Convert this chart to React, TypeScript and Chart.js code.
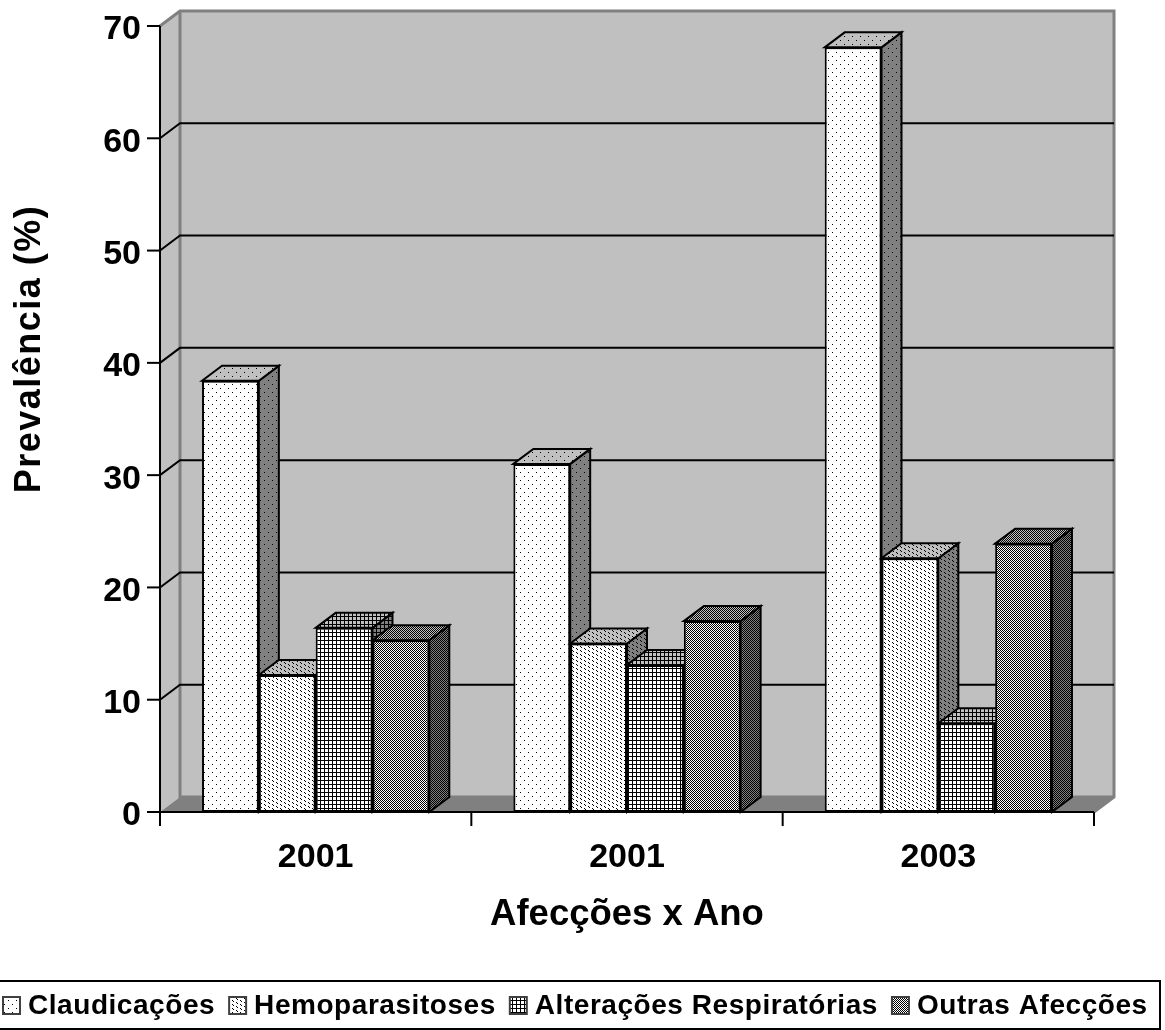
import React, { useEffect, useRef } from "react";
import { Chart, registerables } from "chart.js";

Chart.register(...registerables);

const years = ["2001", "2001", "2003"];
const claudicacoes = [38.4, 31.0, 68.1];
const hemoparasitoses = [12.2, 15.0, 22.6];
const alteracoesRespiratorias = [16.4, 13.1, 7.9];
const outrasAfeccoes = [15.3, 17.0, 23.9];
const seriesNames = ["Claudicações", "Hemoparasitoses", "Alterações Respiratórias", "Outras Afecções"];
const yTicks = [0, 10, 20, 30, 40, 50, 60, 70];
const yTitle = "Prevalência (%)";

const FONT = '"Liberation Sans", Arial, sans-serif';
const DX = 20;
const DY = 15;

type Pt = [number, number];
const dotsTile: Pt[] = [[0, 0], [4, 4]];
const denseTile: Pt[] = [[0, 0], [1, 1], [4, 2], [5, 3], [0, 4], [1, 5], [4, 6], [5, 7]];
const gridTile: Pt[] = [];
for (let i = 0; i < 4; i++) { gridTile.push([i, 0]); if (i) gridTile.push([0, i]); }
const checkTile: Pt[] = [];
for (let y = 0; y < 8; y++) for (let x = 0; x < 8; x++) if ((x + y) % 2 === 0) checkTile.push([x, y]);

function tile(size: number, points: Pt[], bg: string): CanvasPattern {
  const c = document.createElement("canvas");
  c.width = size;
  c.height = size;
  const g = c.getContext("2d")!;
  g.fillStyle = bg;
  g.fillRect(0, 0, size, size);
  g.fillStyle = "#000";
  points.forEach(([x, y]) => g.fillRect(x, y, 1, 1));
  return g.createPattern(c, "repeat")!;
}

const tiles: [number, Pt[]][] = [[8, dotsTile], [8, denseTile], [4, gridTile], [8, checkTile]];

function poly(ctx: CanvasRenderingContext2D, pts: Pt[], fill: any, stroke?: string, lw = 2) {
  ctx.beginPath();
  pts.forEach(([x, y], i) => (i ? ctx.lineTo(x, y) : ctx.moveTo(x, y)));
  ctx.closePath();
  ctx.fillStyle = fill;
  ctx.fill();
  if (stroke) {
    ctx.strokeStyle = stroke;
    ctx.lineWidth = lw;
    ctx.lineJoin = "miter";
    ctx.stroke();
  }
}

function line(ctx: CanvasRenderingContext2D, pts: Pt[], color: string, lw = 2) {
  ctx.beginPath();
  pts.forEach(([x, y], i) => (i ? ctx.lineTo(x, y) : ctx.moveTo(x, y)));
  ctx.strokeStyle = color;
  ctx.lineWidth = lw;
  ctx.stroke();
}

export default function App() {
  const ref = useRef<HTMLCanvasElement>(null);

  useEffect(() => {
    document.body.style.margin = "0";
    const front = tiles.map(([s, p]) => tile(s, p, "#ffffff"));
    const sidePat = tiles.map(([s, p]) => tile(s, p, "#808080"));
    const topPat = tiles.map(([s, p]) => tile(s, p, "#c0c0c0"));

    const plugin = {
      id: "excel3d",
      beforeDraw(chart: any) {
        // the reference's value labels sit slightly below their tick marks
        const items = chart.scales.y.getLabelItems(chart.chartArea);
        items.forEach((item: any) => { item.options.translation[1] += 4; });
      },
      beforeDatasetsDraw(chart: any) {
        const { ctx, scales } = chart;
        const { x, y } = scales;
        const l = x.left, r = x.right;
        const t = y.getPixelForValue(70), b = y.getPixelForValue(0);
        ctx.save();
        poly(ctx, [[l + DX, t - DY], [r + DX, t - DY], [r + DX, b - DY], [l + DX, b - DY]], "#c0c0c0");
        poly(ctx, [[l, t], [l + DX, t - DY], [l + DX, b - DY], [l, b]], "#c0c0c0");
        poly(ctx, [[l, b], [l + DX, b - DY], [r + DX, b - DY], [r, b]], "#808080");
        line(ctx, [[l, t], [l + DX, t - DY], [r + DX, t - DY], [r + DX, b - DY], [r, b]], "#808080", 3);
        line(ctx, [[l + DX, t - DY], [l + DX, b - DY], [r + DX, b - DY]], "#808080", 3);
        yTicks.forEach((v) => {
          if (v === 0 || v === 70) return;
          const py = y.getPixelForValue(v);
          line(ctx, [[l, py], [l + DX, py - DY], [r + DX, py - DY]], "#000", 2);
        });
        ctx.restore();
      },
      beforeDatasetDraw() {
        return false;
      },
      afterDatasetsDraw(chart: any) {
        const { ctx, scales } = chart;
        const { x, y } = scales;
        ctx.save();
        const metas = chart.data.datasets.map((_: any, i: number) => chart.getDatasetMeta(i));
        years.forEach((_, c) => {
          metas.forEach((meta: any, s: number) => {
            const el = meta.data[c];
            const p = el.getProps(["x", "y", "base", "width"], true);
            const left = p.x - p.width / 2, right = p.x + p.width / 2;
            poly(ctx, [[right, p.y], [right + DX, p.y - DY], [right + DX, p.base - DY], [right, p.base]], sidePat[s], "#000");
            poly(ctx, [[left, p.y], [left + DX, p.y - DY], [right + DX, p.y - DY], [right, p.y]], topPat[s], "#000");
            el.draw(ctx);
          });
        });
        const l = x.left, r = x.right, t = y.getPixelForValue(70), b = y.getPixelForValue(0);
        line(ctx, [[l, t], [l, b + 14]], "#000", 2);
        line(ctx, [[l, b], [r, b]], "#000", 2);
        yTicks.forEach((v) => {
          const py = y.getPixelForValue(v);
          line(ctx, [[l - 13, py], [l, py]], "#000", 2);
        });
        for (let i = 1; i <= years.length; i++) {
          const px = l + ((r - l) * i) / years.length;
          line(ctx, [[px, b], [px, b + 14]], "#000", 2);
        }
        ctx.restore();
      },
      afterDraw(chart: any) {
        const { ctx } = chart;
        ctx.save();
        // rotated value-axis title, off-centre as in the reference
        ctx.save();
        ctx.translate(40, 349);
        ctx.rotate(-Math.PI / 2);
        ctx.font = `bold 36px ${FONT}`;
        (ctx as any).letterSpacing = "1.5px";
        ctx.fillStyle = "#000";
        ctx.textAlign = "center";
        ctx.textBaseline = "alphabetic";
        ctx.fillText(yTitle, 0, 0);
        ctx.restore();
        // legend
        ctx.strokeStyle = "#000";
        ctx.lineWidth = 2;
        ctx.strokeRect(-2, 981, 1162, 48);
        ctx.font = `bold 28px ${FONT}`;
        (ctx as any).letterSpacing = "0.55px";
        ctx.textBaseline = "alphabetic";
        let cx = 3;
        seriesNames.forEach((name, s) => {
          ctx.fillStyle = front[s];
          ctx.fillRect(cx, 997, 17, 17);
          ctx.strokeStyle = "#404040";
          ctx.lineWidth = 2;
          ctx.strokeRect(cx, 997, 17, 17);
          cx += 25;
          ctx.fillStyle = "#000";
          ctx.textAlign = "left";
          ctx.fillText(name, cx, 1014);
          cx += ctx.measureText(name).width + 14;
        });
        ctx.restore();
      },
    };

    const series = [claudicacoes, hemoparasitoses, alteracoesRespiratorias, outrasAfeccoes];
    const chart = new Chart(ref.current!, {
      type: "bar",
      data: {
        labels: years,
        datasets: series.map((data, i) => ({
          label: seriesNames[i],
          data,
          backgroundColor: front[i],
          borderColor: "#000",
          borderWidth: 2,
          borderSkipped: false,
          barPercentage: 1,
          categoryPercentage: 0.73,
        })),
      },
      options: {
        responsive: false,
        animation: false,
        events: [],
        layout: { padding: { top: 26, right: 71, left: 0, bottom: 0 } },
        plugins: { legend: { display: false }, tooltip: { enabled: false } },
        scales: {
          x: {
            grid: { display: false, drawTicks: false },
            border: { display: false },
            ticks: { color: "#000", padding: 25, font: { family: FONT, size: 34, weight: "bold" }, maxRotation: 0 },
            title: {
              display: true,
              text: "Afecções x Ano",
              color: "#000",
              font: { family: FONT, size: 36.5, weight: "bold" },
              padding: { top: 0, bottom: 93 },
            },
            afterFit(s: any) { s.height = 218; s.paddingLeft = 0; s.paddingRight = 0; },
          },
          y: {
            min: 0,
            max: 70,
            grid: { display: false, drawTicks: false },
            border: { display: false },
            ticks: { stepSize: 10, color: "#000", padding: 19, font: { family: FONT, size: 34, weight: "bold" } },
            afterFit(s: any) { s.width = 160; s.paddingTop = 0; s.paddingBottom = 0; },
          },
        },
      },
      plugins: [plugin],
    } as any);
    return () => chart.destroy();
  }, []);

  return (
    <div style={{ width: 1165, height: 1030, background: "#fff" }}>
      <canvas ref={ref} width={1165} height={1030} style={{ display: "block" }} />
    </div>
  );
}
